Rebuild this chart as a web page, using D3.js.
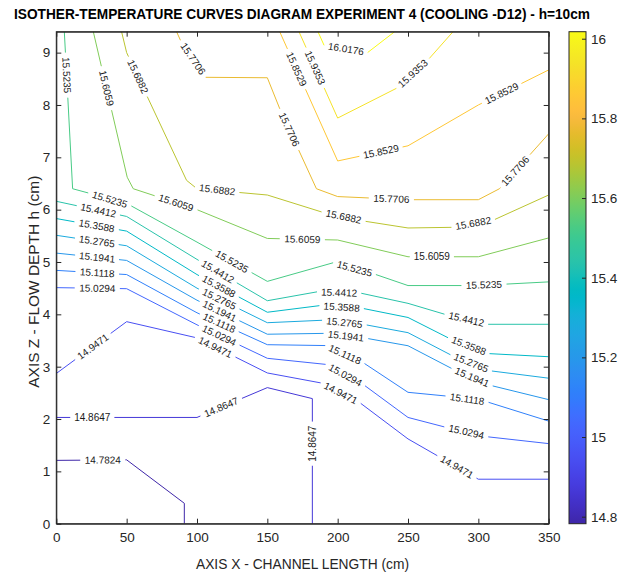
<!DOCTYPE html>
<html>
<head>
<meta charset="utf-8">
<script src="https://cdn.jsdelivr.net/npm/d3@7"></script>
<style>
  body { margin: 0; background: #fff; }
  text { font-family: "Liberation Sans", Arial, Helvetica, sans-serif; }
</style>
</head>
<body>
<svg id="chart" width="627" height="575"></svg>
<script>
// tick values
const xTicks = [0, 50, 100, 150, 200, 250, 300, 350];
const zTicks = [0, 1, 2, 3, 4, 5, 6, 7, 8, 9];
const cbTicks = [14.8, 15, 15.2, 15.4, 15.6, 15.8, 16];

// contour levels (temperature)
const levels = [14.7824, 14.8647, 14.9471, 15.0294, 15.1118, 15.1941, 15.2765, 15.3588,
  15.4412, 15.5235, 15.6059, 15.6882, 15.7706, 15.8529, 15.9353, 16.0176];

// isotherm lines, [x cm, z cm]
const iso14_7824 = [[0, 1.21], [50, 1.22], [91, 0.39], [91, 0]];
const iso14_8647 = [[0, 2.03], [100, 2.03], [150, 2.60], [182, 2.39], [182, 0]];
const iso14_9471 = [[0, 2.87], [50, 3.86], [100, 3.55], [150, 2.88], [200, 2.63], [250, 1.62], [300, 0.85], [350, 0.85]];
const iso15_0294 = [[0, 4.51], [50, 4.49], [100, 3.80], [150, 3.16], [200, 3.02], [250, 2.03], [300, 1.68], [350, 1.53]];
const iso15_1118 = [[0, 4.84], [50, 4.76], [100, 4.03], [150, 3.42], [200, 3.40], [250, 2.51], [300, 2.38], [350, 1.96]];
const iso15_1941 = [[0, 5.17], [50, 5.03], [100, 4.27], [150, 3.62], [200, 3.64], [250, 3.40], [300, 2.70], [350, 2.37]];
const iso15_2765 = [[0, 5.51], [50, 5.31], [100, 4.50], [150, 3.84], [200, 3.90], [250, 3.65], [300, 2.95], [350, 2.78]];
const iso15_3588 = [[0, 5.83], [50, 5.59], [100, 4.76], [150, 4.04], [200, 4.21], [250, 3.94], [300, 3.26], [350, 3.19]];
const iso15_4412 = [[0, 6.16], [50, 5.87], [100, 5.05], [150, 4.26], [200, 4.50], [250, 4.21], [300, 3.81], [350, 3.81]];
const iso15_5235 = [[5.7, 9.4], [11.6, 6.40], [50, 6.12], [100, 5.38], [150, 4.63], [200, 5.01], [250, 4.55], [300, 4.55], [350, 4.62]];
const iso15_6059 = [[26.3, 9.4], [50.4, 6.62], [54.7, 6.40], [100, 6.0], [150, 5.45], [200, 5.42], [250, 5.10], [300, 5.10], [350, 5.46]];
const iso15_6882 = [[46.4, 9.4], [50, 9.0], [92.6, 6.56], [100, 6.40], [150, 6.28], [200, 5.86], [250, 5.65], [300, 5.67], [350, 6.28]];
const iso15_7706 = [[85.5, 9.4], [100, 8.53], [150, 8.52], [158.8, 7.93], [184.9, 6.40], [200, 6.25], [250, 6.19], [300, 6.19], [315, 6.40], [350, 7.45]];
const iso15_8529 = [[158.8, 9.4], [200, 6.93], [250, 7.22], [300, 8.0], [350, 8.67]];
const iso15_9353 = [[172.5, 9.4], [200, 7.75], [250, 8.43], [282, 9.4]];
const iso16_0176 = [[186, 9.4], [200, 8.56], [240.5, 9.4]];

// where the inline labels sit, [x cm, z cm]
const lab14_7824 = [[33, 1.21]];
const lab14_8647 = [[25.5, 2.03], [116, 2.3], [182, 1.53]];
const lab14_9471 = [[26, 3.38], [113, 3.38], [203, 2.55], [285, 1.1]];
const lab15_0294 = [[29, 4.5], [116, 3.6], [206, 2.88], [291, 1.72]];
const lab15_1118 = [[29, 4.8], [116, 3.85], [206, 3.3], [292, 2.4]];
const lab15_1941 = [[29, 5.1], [116, 4.07], [206, 3.63], [295, 2.76]];
const lab15_2765 = [[29, 5.42], [116, 4.3], [205, 3.9], [294, 3.0]];
const lab15_3588 = [[29, 5.72], [116, 4.55], [203, 4.2], [292, 3.32]];
const lab15_4412 = [[30, 6.02], [115, 4.82], [201, 4.5], [291, 3.86]];
const lab15_5235 = [[8.5, 8.57], [38, 6.2], [124.5, 5.0], [212, 4.9], [304, 4.55]];
const lab15_6059 = [[34.6, 8.31], [85.5, 6.15], [175, 5.43], [267, 5.1]];
const lab15_6882 = [[57, 8.53], [114, 6.35], [204, 5.82], [297, 5.67]];
const lab15_7706 = [[95, 8.8], [164.7, 7.52], [238, 6.2], [327, 6.72]];
const lab15_8529 = [[168.3, 8.66], [231, 7.1], [316, 8.25]];
const lab15_9353 = [[182.4, 8.69], [254.6, 8.57]];
const lab16_0176 = [[201, 8.6]];

const isoLines = [iso14_7824, iso14_8647, iso14_9471, iso15_0294, iso15_1118, iso15_1941, iso15_2765, iso15_3588,
  iso15_4412, iso15_5235, iso15_6059, iso15_6882, iso15_7706, iso15_8529, iso15_9353, iso16_0176];
const labelSpots = [lab14_7824, lab14_8647, lab14_9471, lab15_0294, lab15_1118, lab15_1941, lab15_2765, lab15_3588,
  lab15_4412, lab15_5235, lab15_6059, lab15_6882, lab15_7706, lab15_8529, lab15_9353, lab16_0176];

// parula colormap
const parulaRGB = [
  [0.2422,0.1504,0.6603],[0.2504,0.1650,0.7076],[0.2578,0.1818,0.7511],[0.2647,0.1978,0.7952],
  [0.2706,0.2147,0.8364],[0.2751,0.2342,0.8710],[0.2783,0.2559,0.8991],[0.2803,0.2782,0.9221],
  [0.2813,0.3006,0.9414],[0.2810,0.3228,0.9579],[0.2795,0.3447,0.9717],[0.2760,0.3667,0.9829],
  [0.2699,0.3892,0.9906],[0.2602,0.4123,0.9952],[0.2440,0.4358,0.9988],[0.2206,0.4603,0.9973],
  [0.1963,0.4847,0.9892],[0.1834,0.5074,0.9798],[0.1786,0.5289,0.9682],[0.1764,0.5499,0.9520],
  [0.1687,0.5703,0.9359],[0.1540,0.5902,0.9218],[0.1460,0.6091,0.9079],[0.1380,0.6276,0.8973],
  [0.1248,0.6459,0.8883],[0.1113,0.6635,0.8763],[0.0952,0.6798,0.8598],[0.0689,0.6948,0.8394],
  [0.0297,0.7082,0.8163],[0.0036,0.7203,0.7917],[0.0067,0.7312,0.7660],[0.0433,0.7411,0.7394],
  [0.0964,0.7500,0.7120],[0.1408,0.7584,0.6842],[0.1717,0.7670,0.6554],[0.1938,0.7758,0.6251],
  [0.2161,0.7843,0.5923],[0.2470,0.7918,0.5567],[0.2906,0.7973,0.5188],[0.3406,0.8008,0.4789],
  [0.3909,0.8029,0.4354],[0.4456,0.8024,0.3909],[0.5044,0.7993,0.3480],[0.5616,0.7942,0.3045],
  [0.6174,0.7876,0.2612],[0.6720,0.7793,0.2227],[0.7242,0.7698,0.1910],[0.7738,0.7598,0.1646],
  [0.8203,0.7498,0.1535],[0.8634,0.7406,0.1596],[0.9035,0.7330,0.1774],[0.9393,0.7288,0.2100],
  [0.9728,0.7298,0.2394],[0.9956,0.7434,0.2371],[0.9970,0.7659,0.2199],[0.9952,0.7893,0.2028],
  [0.9892,0.8136,0.1885],[0.9786,0.8386,0.1766],[0.9676,0.8639,0.1643],[0.9610,0.8890,0.1537],
  [0.9597,0.9135,0.1423],[0.9628,0.9373,0.1265],[0.9691,0.9606,0.1064],[0.9769,0.9839,0.0805]
];
const parulaCols = parulaRGB.map(c => d3.rgb(c[0] * 255, c[1] * 255, c[2] * 255).formatHex());
const parula = d3.scaleLinear()
  .domain(parulaCols.map((c, i) => i / (parulaCols.length - 1)))
  .range(parulaCols)
  .interpolate(d3.interpolateRgb)
  .clamp(true);

const svg = d3.select("#chart");
const plot = { left: 56.3, right: 548.7, top: 31.7, bottom: 523.7 };
const x = d3.scaleLinear().domain([0, 350]).range([plot.left, plot.right]);
const y = d3.scaleLinear().domain([0, 9.4]).range([plot.bottom, plot.top]);
const cMin = levels[0], cMax = levels[levels.length - 1];
const colorOf = v => parula((v - cMin) / (cMax - cMin));
const axisColor = "#262626";

svg.append("rect").attr("width", 627).attr("height", 575).attr("fill", "#fff");

svg.append("defs").append("clipPath").attr("id", "plotclip")
  .append("rect").attr("x", plot.left).attr("y", plot.top)
  .attr("width", plot.right - plot.left).attr("height", plot.bottom - plot.top);

const gLines = svg.append("g").attr("clip-path", "url(#plotclip)");
const gLabels = svg.append("g");
const line = d3.line().x(d => x(d[0])).y(d => y(d[1]));
const fmt = d3.format(".4f");

levels.forEach((lev, i) => {
  const path = gLines.append("path")
    .attr("d", line(isoLines[i]))
    .attr("fill", "none")
    .attr("stroke", colorOf(lev))
    .attr("stroke-width", 1);
  const node = path.node();
  const total = node.getTotalLength();
  const gaps = [];

  labelSpots[i].forEach(sp => {
    const px = x(sp[0]), py = y(sp[1]);
    // nearest spot on the line
    let best = 0, bd = Infinity;
    for (let s = 0; s <= total; s += 0.5) {
      const p = node.getPointAtLength(s);
      const d = (p.x - px) ** 2 + (p.y - py) ** 2;
      if (d < bd) { bd = d; best = s; }
    }
    const t = gLabels.append("text")
      .text(fmt(lev))
      .attr("font-size", 10)
      .attr("fill", "#1a1a1a")
      .attr("text-anchor", "middle")
      .attr("dy", "0.35em");
    const w = t.node().getComputedTextLength();
    const need = w + 8;
    let h = w / 2, p1, p2, s1, s2;
    while (true) {
      s1 = Math.max(0, best - h); s2 = Math.min(total, best + h);
      p1 = node.getPointAtLength(s1); p2 = node.getPointAtLength(s2);
      const dist = Math.hypot(p2.x - p1.x, p2.y - p1.y);
      if (dist >= need || (s1 === 0 && s2 === total)) break;
      h += 0.5;
    }
    let ang = Math.atan2(p2.y - p1.y, p2.x - p1.x) * 180 / Math.PI;
    if (ang >= 90) ang -= 180; else if (ang < -90) ang += 180;
    const cx = (p1.x + p2.x) / 2, cy = (p1.y + p2.y) / 2;
    t.attr("transform", `translate(${cx},${cy}) rotate(${ang})`);
    gaps.push([s1, s2]);
  });

  gaps.sort((a, b) => a[0] - b[0]);
  const dash = [];
  let pos = 0;
  gaps.forEach(g => { dash.push(Math.max(0, g[0] - pos), g[1] - Math.max(g[0], pos)); pos = g[1]; });
  dash.push(total - pos + 2, 0);
  path.attr("stroke-dasharray", dash.join(" "));
});

// axes
function styleAxis(g) {
  g.selectAll("path.domain").attr("stroke", axisColor);
  g.selectAll(".tick line").attr("stroke", axisColor);
  g.selectAll(".tick text").attr("fill", axisColor).attr("font-size", 13.5)
    .attr("font-family", "'Liberation Sans', Arial, sans-serif");
}
svg.append("g").attr("transform", `translate(0,${plot.bottom})`)
  .call(d3.axisBottom(x).tickValues(xTicks).tickSize(-5).tickSizeOuter(0).tickPadding(9))
  .call(styleAxis);
svg.append("g").attr("transform", `translate(0,${plot.top})`)
  .call(d3.axisTop(x).tickValues(xTicks).tickSize(-5).tickSizeOuter(0).tickFormat(""))
  .call(styleAxis);
svg.append("g").attr("transform", `translate(${plot.left},0)`)
  .call(d3.axisLeft(y).tickValues(zTicks).tickSize(-5).tickSizeOuter(0).tickPadding(6))
  .call(styleAxis);
svg.append("g").attr("transform", `translate(${plot.right},0)`)
  .call(d3.axisRight(y).tickValues(zTicks).tickSize(-5).tickSizeOuter(0).tickFormat(""))
  .call(styleAxis);
svg.append("rect")
  .attr("x", plot.left).attr("y", plot.top)
  .attr("width", plot.right - plot.left).attr("height", plot.bottom - plot.top)
  .attr("fill", "none").attr("stroke", axisColor).attr("stroke-width", 1);

// titles
svg.append("text")
  .attr("x", 302).attr("y", 19)
  .attr("text-anchor", "middle")
  .attr("font-size", 14).attr("font-weight", "bold").attr("fill", "#000")
  .attr("textLength", 576).attr("lengthAdjust", "spacingAndGlyphs")
  .text("ISOTHER-TEMPERATURE CURVES DIAGRAM EXPERIMENT 4 (COOLING -D12) - h=10cm");
svg.append("text")
  .attr("x", (plot.left + plot.right) / 2).attr("y", 569)
  .attr("text-anchor", "middle")
  .attr("font-size", 14.5).attr("fill", axisColor)
  .attr("textLength", 213).attr("lengthAdjust", "spacingAndGlyphs")
  .text("AXIS X - CHANNEL LENGTH (cm)");
svg.append("text")
  .attr("transform", `translate(39,${(plot.top + plot.bottom) / 2 + 4}) rotate(-90)`)
  .attr("text-anchor", "middle")
  .attr("font-size", 14.5).attr("fill", axisColor)
  .attr("textLength", 212).attr("lengthAdjust", "spacingAndGlyphs")
  .text("AXIS Z - FLOW DEPTH h (cm)");

// colorbar
const cb = { left: 569, width: 17 };
const cbScale = d3.scaleLinear().domain([cMin, cMax]).range([plot.bottom, plot.top]);
const grad = svg.select("defs").append("linearGradient")
  .attr("id", "cbgrad").attr("x1", 0).attr("y1", 1).attr("x2", 0).attr("y2", 0);
parulaCols.forEach((c, i) => {
  grad.append("stop").attr("offset", i / (parulaCols.length - 1)).attr("stop-color", c);
});
svg.append("rect")
  .attr("x", cb.left).attr("y", plot.top)
  .attr("width", cb.width).attr("height", plot.bottom - plot.top)
  .attr("fill", "url(#cbgrad)");
svg.append("g").attr("transform", `translate(${cb.left + cb.width},0)`)
  .call(d3.axisRight(cbScale).tickValues(cbTicks).tickSize(-4).tickSizeOuter(0).tickPadding(5)
    .tickFormat(d3.format("~g")))
  .call(styleAxis)
  .call(g => g.select("path.domain").remove());
svg.append("rect")
  .attr("x", cb.left).attr("y", plot.top)
  .attr("width", cb.width).attr("height", plot.bottom - plot.top)
  .attr("fill", "none").attr("stroke", axisColor).attr("stroke-width", 1);
</script>
</body>
</html>
